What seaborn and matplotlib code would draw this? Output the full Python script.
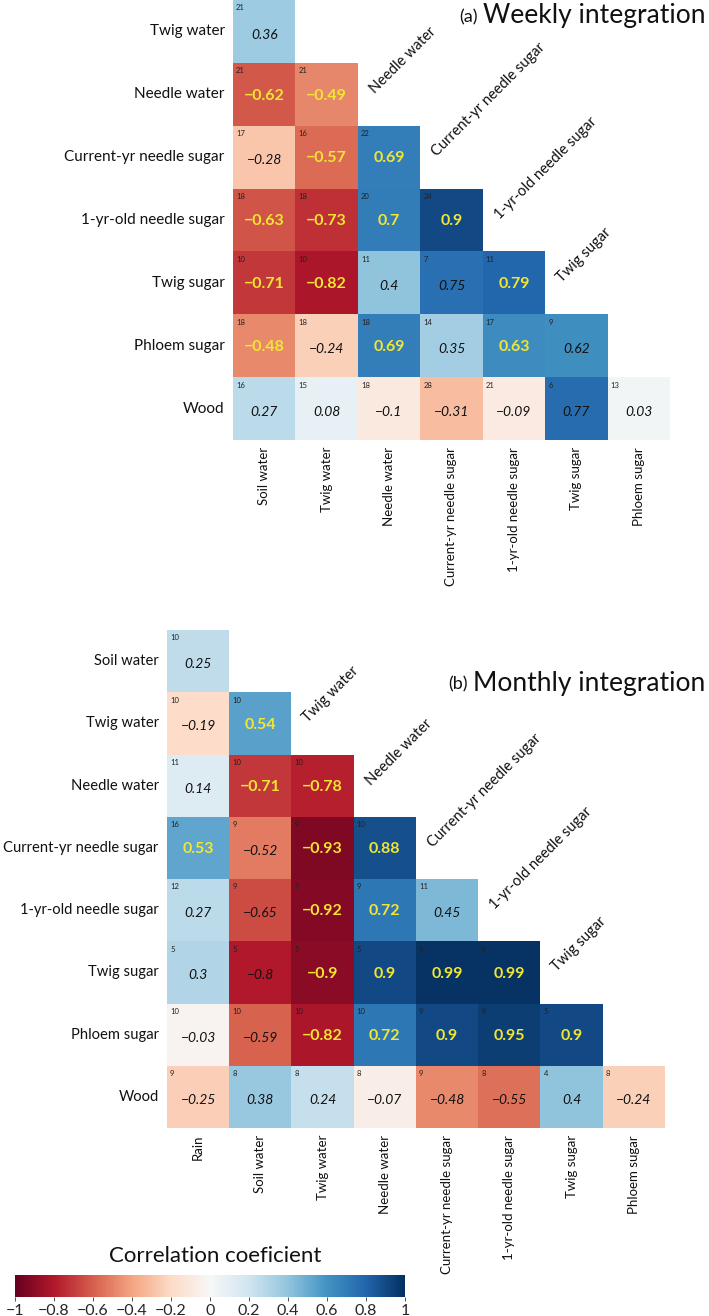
import numpy as np
import pandas as pd
import matplotlib
matplotlib.use("Agg")
import matplotlib.pyplot as plt
import seaborn as sns

sns.set_theme(style="white")
plt.rcParams["font.family"] = ["Lato", "DejaVu Sans"]

# ---------------- data: (a) weekly ----------------
a_rows = ["Twig water", "Needle water", "Current-yr needle sugar", "1-yr-old needle sugar",
          "Twig sugar", "Phloem sugar", "Wood"]
a_cols = ["Soil water", "Twig water", "Needle water", "Current-yr needle sugar",
          "1-yr-old needle sugar", "Twig sugar", "Phloem sugar"]
a_r = [[0.36],
       [-0.62, -0.49],
       [-0.28, -0.57, 0.69],
       [-0.63, -0.73, 0.70, 0.90],
       [-0.71, -0.82, 0.40, 0.75, 0.79],
       [-0.48, -0.24, 0.69, 0.35, 0.63, 0.62],
       [0.27, 0.08, -0.10, -0.31, -0.09, 0.77, 0.03]]
a_n = [[21],
       [21, 21],
       [17, 16, 22],
       [18, 18, 20, 24],
       [10, 10, 11, 7, 11],
       [18, 18, 18, 14, 17, 9],
       [16, 15, 18, 28, 21, 6, 13]]
a_sig = [[0],
         [1, 1],
         [0, 1, 1],
         [1, 1, 1, 1],
         [1, 1, 0, 0, 1],
         [1, 0, 1, 0, 1, 0],
         [0, 0, 0, 0, 0, 0, 0]]
a_diag = ["Needle water", "Current-yr needle sugar", "1-yr-old needle sugar", "Twig sugar"]

# ---------------- data: (b) monthly ----------------
b_rows = ["Soil water", "Twig water", "Needle water", "Current-yr needle sugar",
          "1-yr-old needle sugar", "Twig sugar", "Phloem sugar", "Wood"]
b_cols = ["Rain", "Soil water", "Twig water", "Needle water", "Current-yr needle sugar",
          "1-yr-old needle sugar", "Twig sugar", "Phloem sugar"]
b_r = [[0.25],
       [-0.19, 0.54],
       [0.14, -0.71, -0.78],
       [0.53, -0.52, -0.93, 0.88],
       [0.27, -0.65, -0.92, 0.72, 0.45],
       [0.30, -0.80, -0.90, 0.90, 0.99, 0.99],
       [-0.03, -0.59, -0.82, 0.72, 0.90, 0.95, 0.90],
       [-0.25, 0.38, 0.24, -0.07, -0.48, -0.55, 0.40, -0.24]]
b_n = [[10],
       [10, 10],
       [11, 10, 10],
       [16, 9, 9, 10],
       [12, 9, 9, 9, 11],
       [5, 5, 5, 5, 4, 4],
       [10, 10, 10, 10, 9, 9, 5],
       [9, 8, 8, 8, 9, 8, 4, 8]]
b_sig = [[0],
         [0, 1],
         [0, 1, 1],
         [1, 0, 1, 1],
         [0, 0, 1, 1, 0],
         [0, 0, 1, 1, 1, 1],
         [0, 0, 1, 1, 1, 1, 1],
         [0, 0, 0, 0, 0, 0, 0, 0]]
b_diag = ["Twig water", "Needle water", "Current-yr needle sugar", "1-yr-old needle sugar",
          "Twig sugar"]

cbar_ticks = [-1, -0.8, -0.6, -0.4, -0.2, 0, 0.2, 0.4, 0.6, 0.8, 1]

SIG_COLOR = "#f3e631"


def to_frame(rows, cols, vals):
    m = np.full((len(rows), len(cols)), np.nan)
    for i, row in enumerate(vals):
        m[i, :len(row)] = row
    return pd.DataFrame(m, index=rows, columns=cols)


def fmt(v):
    s = f"{v:g}"
    return s.replace("-", "\u2212")


def panel(ax, rows, cols, r, n, sig, diag, ylab_size):
    df = to_frame(rows, cols, r)
    sns.heatmap(df, ax=ax, cmap="RdBu", vmin=-1, vmax=1, cbar=False,
                xticklabels=True, yticklabels=True, linewidths=0)
    ax.tick_params(axis="both", length=0)
    ax.set_yticklabels(rows, rotation=0, fontsize=ylab_size, color="#111111")
    ax.set_xticklabels(cols, rotation=90, fontsize=9.5, color="#111111")
    ax.tick_params(axis="y", pad=6)
    ax.tick_params(axis="x", pad=5)
    for i, row in enumerate(r):
        for j, v in enumerate(row):
            ax.text(j + 0.05, i + 0.07, str(n[i][j]), ha="left", va="top",
                    fontsize=5.5, color="#222222")
            if sig[i][j]:
                ax.text(j + 0.5, i + 0.52, fmt(v), ha="center", va="center",
                        fontsize=11.5, fontweight="bold", color=SIG_COLOR)
            else:
                ax.text(j + 0.5, i + 0.55, fmt(v), ha="center", va="center",
                        fontsize=10, style="italic", color="#111111")
    for lab in diag:
        ri = rows.index(lab)
        ci = cols.index(lab)
        ax.text(ci + 0.27, ri + 0.5, lab, rotation=45, rotation_mode="anchor",
                ha="left", va="baseline", fontsize=10.5, color="#111111")
    return ax


fig = plt.figure(figsize=(7.09, 13.16), dpi=100)

ax_a = fig.add_axes([0.3286, 1 - 440 / 1316, 0.6163, 440 / 1316])
panel(ax_a, a_rows, a_cols, a_r, a_n, a_sig, a_diag, 11)

ax_b = fig.add_axes([0.2355, 1 - 1128 / 1316, 0.7024, 498 / 1316])
panel(ax_b, b_rows, b_cols, b_r, b_n, b_sig, b_diag, 10.6)

# titles
renderer = fig.canvas.get_renderer()
for tag, main, ypix in [("(a)", "Weekly integration", 16), ("(b)", "Monthly integration", 683)]:
    t = fig.text(0.995, 1 - ypix / 1316, main, ha="right", va="center", fontsize=19,
                 color="#111111")
    bb = t.get_window_extent(renderer=renderer)
    x0 = bb.x0 / fig.bbox.width - 0.008
    fig.text(x0, 1 - ypix / 1316 - 0.001, tag, ha="right", va="center", fontsize=13,
             color="#111111")

# colorbar
cax = fig.add_axes([0.0212, 1 - 1297 / 1316, 0.55, 22 / 1316])
cb = fig.colorbar(ax_b.collections[0], cax=cax, orientation="horizontal")
cb.outline.set_visible(False)
cb.set_ticks(cbar_ticks)
cb.set_ticklabels([fmt(t) for t in cbar_ticks])
cax.tick_params(length=3, width=0.6, labelsize=11.5, pad=2, color="#333333")
fig.text(0.303, 1 - 1256 / 1316, "Correlation coeficient", ha="center", va="center",
         fontsize=16, color="#111111")

fig.savefig("out.png", dpi=100)
